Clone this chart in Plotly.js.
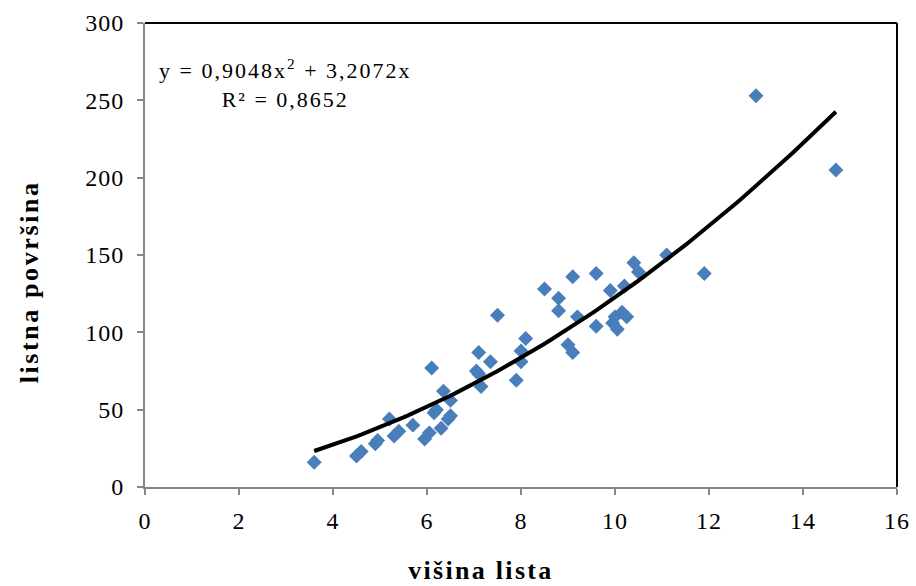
<!DOCTYPE html>
<html>
<head>
<meta charset="utf-8">
<script src="https://cdn.plot.ly/plotly-3.0.1.min.js"></script>
<style>
html,body{margin:0;padding:0;background:#fff;}
#chart{width:916px;height:586px;}
#chart .xtick text, #chart .ytick text { letter-spacing: 1px; }
</style>
</head>
<body>
<div id="chart"></div>
<script>
// Data
var visinaLista = [3.6, 4.5, 4.6, 4.9, 4.95, 5.2, 5.3, 5.4, 5.7, 5.95, 6.05, 6.1, 6.15, 6.2, 6.3, 6.35, 6.45, 6.5, 6.5,
  7.1, 7.05, 7.1, 7.15, 7.35, 7.5, 7.9, 8.0, 8.0, 8.1, 8.5, 8.8, 8.8, 9.0, 9.1, 9.1, 9.2, 9.6, 9.6, 9.9, 9.95,
  10.05, 10.0, 10.15, 10.25, 10.2, 10.4, 10.5, 11.1, 11.9, 13.0, 14.7];
var listnaPovrsina = [16, 20, 23, 28, 30, 44, 33, 36, 40, 31, 35, 77, 48, 50, 38, 62, 44, 46, 56,
  87, 75, 73, 65, 81, 111, 69, 81, 88, 96, 128, 122, 114, 92, 87, 136, 110, 138, 104, 127, 106,
  102, 110, 113, 110, 130, 145, 139, 150, 138, 253, 205];
// Trendline coefficients (polynomial, order 2, intercept 0) as printed on the chart
var coefA = 0.9048, coefB = 3.2072;
var trendFrom = 3.6, trendTo = 14.7;
var xTicks = [0, 2, 4, 6, 8, 10, 12, 14, 16];
var yTicks = [0, 50, 100, 150, 200, 250, 300];
var xTitle = 'višina lista';
var yTitle = 'listna površina';
var eqText = 'y = 0,9048x<sup>2</sup> + 3,2072x<br>R² = 0,8652';

var tx = [], ty = [];
var steps = 100;
for (var i = 0; i <= steps; i++) {
  var x = trendFrom + (trendTo - trendFrom) * i / steps;
  tx.push(x); ty.push(coefA * x * x + coefB * x);
}

var font = 'Liberation Serif, Times New Roman, serif';
var data = [
  {x: visinaLista, y: listnaPovrsina, type: 'scatter', mode: 'markers',
   marker: {symbol: 'diamond', size: 11.5, color: '#4A7EBB'}, hoverinfo: 'x+y'},
  {x: tx, y: ty, type: 'scatter', mode: 'lines', line: {color: '#000', width: 4}, hoverinfo: 'skip'}
];
var axisCommon = {
  showgrid: false, zeroline: false, showline: true, linecolor: '#868686', linewidth: 2,
  ticks: 'outside', ticklen: 6, tickwidth: 2, tickcolor: '#868686',
  tickfont: {family: font, size: 24, color: '#000'}
};
var layout = {
  width: 916, height: 586,
  margin: {l: 145, r: 19, t: 23, b: 99},
  paper_bgcolor: '#fff', plot_bgcolor: '#fff',
  showlegend: false,
  xaxis: Object.assign({}, axisCommon, {
    range: [0, 16], tickvals: xTicks, ticktext: xTicks.map(String), ticklabelstandoff: 5
  }),
  yaxis: Object.assign({}, axisCommon, {
    range: [0, 300], tickvals: yTicks, ticktext: yTicks.map(String), ticklabelstandoff: 8
  }),
  shapes: [
    {type: 'line', xref: 'paper', yref: 'paper', x0: 0, x1: 1, y0: 1, y1: 1, line: {color: '#000', width: 2}},
    {type: 'line', xref: 'paper', yref: 'paper', x0: 1, x1: 1, y0: 0, y1: 1, line: {color: '#000', width: 2}}
  ],
  annotations: [
    {xref: 'paper', yref: 'paper', x: 0.187, y: 0.869, xanchor: 'center', yanchor: 'middle',
     showarrow: false, align: 'center', text: eqText,
     font: {family: font, size: 22, color: '#000'}},
    {xref: 'paper', yref: 'paper', x: 0.447, y: -0.179, xanchor: 'center', yanchor: 'middle',
     showarrow: false, text: xTitle,
     font: {family: font, size: 26, color: '#000', weight: 'bold'}},
    {xref: 'paper', yref: 'paper', x: -0.153, y: 0.442, xanchor: 'center', yanchor: 'middle',
     showarrow: false, text: yTitle, textangle: -90,
     font: {family: font, size: 26, color: '#000', weight: 'bold'}}
  ]
};
Plotly.newPlot('chart', data, layout, {displayModeBar: false, staticPlot: true}).then(function (gd) {
  var anns = gd.querySelectorAll('.annotation-text');
  var spacing = ['2px', '2.3px', '2.6px'];
  for (var k = 0; k < anns.length && k < spacing.length; k++) {
    anns[k].style.letterSpacing = spacing[k];
  }
});
</script>
</body>
</html>
